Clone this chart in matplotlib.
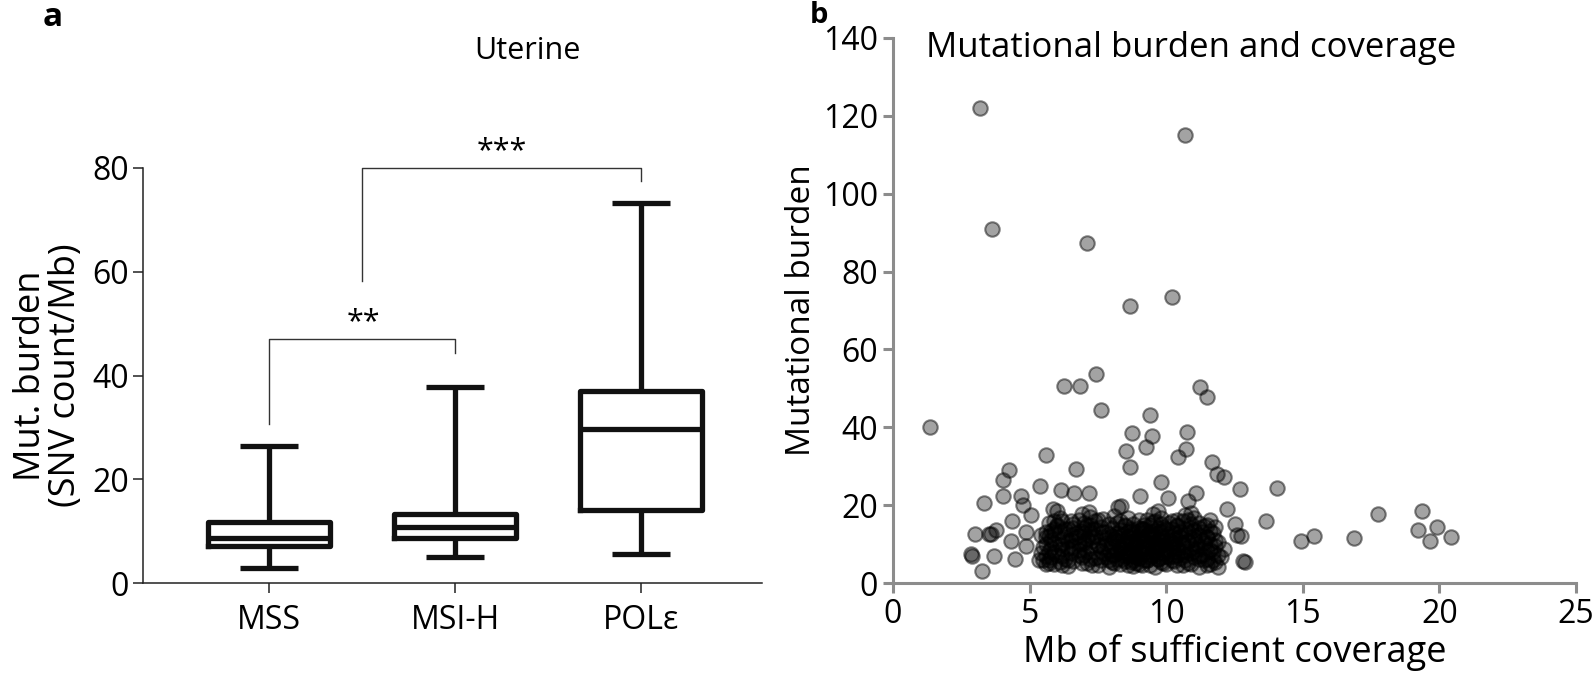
import matplotlib
matplotlib.use("Agg")
import matplotlib.pyplot as plt

plt.rcParams['font.family'] = ['Open Sans', 'DejaVu Sans']

# ---------------- Panel a data ----------------
categories = ["MSS", "MSI-H", "POLε"]
whisker_low = [2.9, 5.0, 5.5]
q1 = [7.2, 8.7, 14.1]
median = [8.7, 10.7, 29.6]
q3 = [11.8, 13.3, 37.0]
whisker_high = [26.4, 37.8, 73.3]
a_yticks = [0, 20, 40, 60, 80]

# ---------------- Panel b data ----------------
outlier_x = [3.2, 10.68, 3.63, 7.1, 10.23, 8.67, 7.44, 6.27, 6.83, 11.25, 11.5, 7.6,
             9.39, 1.36, 8.76, 10.77, 9.47, 8.52, 9.26, 10.71, 5.6, 10.42, 8.67, 6.7,
             4.26, 11.66, 4.04, 11.87, 12.13, 9.82, 5.38, 6.14, 6.64, 7.16, 12.69, 14.04,
             4.04, 4.69, 9.04, 10.08, 11.09, 10.79, 3.33, 4.77, 12.22, 5.06, 17.76, 19.36,
             4.37, 13.67, 12.5, 19.2, 19.9, 15.4, 14.92, 16.89, 19.64, 20.44, 3.0, 3.5,
             3.78, 3.59, 4.32, 2.9, 2.85, 3.7, 4.46, 3.24, 4.86, 4.87, 5.36, 5.71,
             12.74, 12.6, 12.8, 12.9]
outlier_y = [121.9, 115.2, 91.0, 87.3, 73.5, 71.1, 53.7, 50.5, 50.5, 50.3, 47.7, 44.4,
             43.2, 40.2, 38.5, 38.9, 37.7, 34.0, 34.9, 34.5, 33.0, 32.4, 29.8, 29.3,
             29.0, 31.0, 26.4, 27.9, 27.3, 26.0, 24.9, 24.0, 23.1, 23.1, 24.1, 24.4,
             22.3, 22.4, 22.4, 21.9, 23.0, 21.0, 20.5, 20.1, 19.1, 17.4, 17.6, 18.5,
             16.0, 16.0, 15.2, 13.7, 14.3, 12.2, 10.9, 11.5, 10.8, 11.8, 12.7, 12.7,
             13.5, 12.5, 10.8, 7.0, 7.5, 6.9, 6.2, 3.0, 9.4, 13.2, 5.9, 5.1,
             12.0, 12.3, 5.6, 5.5]

cluster_x = [5.9, 6.4, 7.3, 7.9, 8.3, 8.8, 9.1, 9.6, 10.0, 10.6, 11.2, 11.6, 11.9,
             5.5, 6.1, 6.6, 7.1, 7.6, 8.0, 8.5, 8.9, 9.3, 9.8, 10.3, 10.8, 11.4, 11.8,
             5.8, 6.3, 6.9, 7.4, 7.8, 8.2, 8.6, 9.0, 9.4, 9.7, 10.1, 10.5, 11.0, 11.5, 12.0,
             5.4, 6.0, 6.5, 7.0, 7.7, 8.1, 8.4, 8.7, 9.2, 9.5, 9.9, 10.4, 10.9, 11.3, 11.7,
             5.7, 6.2, 6.8, 7.2, 7.9, 8.3, 8.8, 9.1, 9.6, 10.0, 10.7, 11.1, 11.6, 12.1,
             5.5, 6.1, 6.6, 7.5, 8.0, 8.5, 8.9, 9.3, 9.8, 10.2, 10.6, 11.2, 11.8,
             5.9, 6.4, 7.0, 7.3, 7.8, 8.2, 8.7, 9.0, 9.4, 9.9, 10.3, 10.8, 11.4, 11.9,
             5.6, 6.2, 6.7, 7.1, 7.6, 8.1, 8.6, 9.1, 9.5, 10.1, 10.5, 11.0, 11.5,
             5.4, 5.9, 6.5, 7.0, 7.4, 7.9, 8.4, 8.8, 9.3, 9.7, 10.2, 10.7, 11.2, 11.7,
             5.8, 6.3, 6.9, 7.3, 7.8, 8.3, 8.7, 9.2, 9.6, 10.0, 10.5, 11.0, 11.6,
             6.0, 6.6, 7.1, 7.6, 8.5, 9.0, 9.4, 9.9, 10.4, 10.9, 11.4, 11.8,
             5.7, 6.2, 7.0, 7.4, 8.2, 8.8, 9.5, 10.1, 10.6, 11.2,
             6.1, 6.8, 7.2, 7.7, 8.6, 9.3, 9.8, 10.4, 11.0, 11.6,
             6.9, 8.1, 9.5, 10.7,
             5.84, 8.24, 8.35, 9.69, 7.16, 6.0, 10.9,
             8.4, 8.9, 9.2, 9.5, 9.8, 10.0, 8.6, 9.0, 9.4, 8.7, 10.2, 9.7, 8.2, 9.1, 8.9, 10.4]
cluster_y = [4.8, 4.3, 4.6, 4.2, 4.9, 4.4, 4.7, 4.1, 4.8, 4.5, 4.2, 4.9, 4.0,
             5.8, 5.3, 5.6, 5.2, 5.9, 5.4, 5.7, 5.1, 5.8, 5.3, 5.6, 5.2, 5.9, 5.4,
             6.7, 6.2, 6.8, 6.3, 6.6, 6.1, 6.9, 6.4, 6.7, 6.2, 6.8, 6.3, 6.6, 6.1, 6.8,
             7.7, 7.2, 7.8, 7.3, 7.6, 7.1, 7.9, 7.4, 7.7, 7.2, 7.8, 7.3, 7.6, 7.1, 7.9,
             8.3, 8.8, 8.4, 8.9, 8.2, 8.7, 8.3, 8.9, 8.4, 8.6, 8.2, 8.8, 8.4, 8.7,
             9.3, 9.8, 9.4, 9.7, 9.2, 9.9, 9.5, 9.1, 9.7, 9.3, 9.8, 9.4, 9.6,
             10.3, 10.8, 10.4, 10.9, 10.2, 10.7, 10.3, 10.8, 10.4, 10.9, 10.2, 10.7, 10.3, 10.6,
             11.8, 11.3, 11.7, 11.2, 11.9, 11.4, 11.8, 11.3, 11.6, 11.1, 11.8, 11.4, 11.7,
             12.3, 12.8, 12.4, 12.9, 12.2, 12.7, 12.3, 12.8, 12.4, 12.9, 12.2, 12.6, 12.3, 12.8,
             13.3, 13.8, 13.4, 13.9, 13.2, 13.7, 13.3, 13.8, 13.4, 13.9, 13.2, 13.6, 13.3,
             14.7, 14.2, 14.8, 14.3, 14.6, 14.1, 14.8, 14.4, 14.7, 14.2, 14.6, 14.3,
             15.4, 15.8, 15.3, 15.9, 15.5, 15.2, 15.7, 15.3, 15.8, 15.4,
             16.6, 16.2, 16.9, 16.4, 16.7, 16.3, 16.8, 16.2, 16.6, 16.3,
             17.6, 17.3, 17.8, 17.4,
             19.0, 19.5, 19.7, 18.5, 18.2, 18.6, 18.0,
             9.0, 11.0, 6.0, 10.0, 12.0, 7.0, 13.0, 8.0, 12.5, 5.5, 10.5, 9.3, 11.8, 14.0, 6.8, 8.0]

core_x = [5.6, 6.2, 6.9, 7.5, 8.1, 8.6, 9.0, 9.4, 9.9, 10.4, 10.9, 11.5,
          5.7, 6.4, 7.2, 7.9, 8.4, 8.8, 9.3, 9.7, 10.2, 10.7, 11.2, 11.7,
          5.6, 6.2, 6.8, 7.5, 8.0, 8.5, 8.9, 9.4, 9.8, 10.3, 10.7, 11.2, 11.9,
          5.9, 6.5, 7.1, 7.6, 8.2, 8.6, 9.0, 9.5, 10.1, 10.6, 11.0, 11.5,
          5.8, 6.4, 7.0, 7.7, 8.3, 8.7, 9.2, 9.6, 10.0, 10.4, 10.9, 11.4,
          5.6, 6.2, 6.8, 7.5, 8.0, 8.5, 8.9, 9.3, 9.7, 10.2, 10.6, 11.1, 11.6,
          5.8, 6.5, 7.0, 7.8, 8.4, 8.8, 9.2, 9.7, 10.3, 10.8, 11.3, 11.8,
          5.7, 6.3, 6.8, 7.3, 8.0, 8.6, 9.0, 9.5, 10.0, 10.5, 11.0, 11.5,
          5.6, 6.1, 6.7, 7.2, 7.7, 8.2, 8.9, 9.4, 9.8, 10.3, 10.8, 11.3,
          5.9, 6.4, 7.0, 7.4, 8.0, 8.7, 9.1, 9.7, 10.2, 10.7, 11.2,
          6.0, 6.6, 7.2, 7.9, 8.5, 9.2, 9.8, 10.4, 10.9, 11.5,
          5.9, 6.5, 7.5, 8.3, 9.0, 9.6, 10.2, 10.8]
core_y = [5.0, 4.6, 5.1, 4.7, 5.2, 4.5, 5.0, 4.6, 5.1, 4.7, 5.0, 4.6,
          6.0, 5.9, 6.1, 5.8, 6.2, 5.9, 6.0, 6.1, 5.8, 6.0, 6.2, 5.9,
          7.0, 6.9, 7.1, 6.8, 7.2, 6.9, 7.0, 7.1, 6.8, 7.0, 7.2, 6.9, 7.1,
          8.0, 8.1, 7.9, 8.2, 8.0, 7.8, 8.1, 8.0, 8.2, 7.9, 8.0, 8.1,
          9.0, 9.1, 8.9, 9.2, 9.0, 8.8, 9.1, 9.0, 9.2, 8.9, 9.0, 9.1,
          10.0, 9.9, 10.1, 9.8, 10.2, 9.9, 10.0, 10.1, 9.8, 10.0, 10.2, 9.9, 10.1,
          11.0, 11.1, 10.9, 11.2, 11.0, 10.8, 11.1, 11.0, 11.2, 10.9, 11.0, 11.1,
          12.0, 11.9, 12.1, 11.8, 12.2, 11.9, 12.0, 12.1, 11.8, 12.0, 12.2, 11.9,
          13.0, 13.1, 12.9, 13.2, 13.0, 12.8, 13.1, 13.0, 13.2, 12.9, 13.0, 13.1,
          14.0, 13.9, 14.1, 13.8, 14.2, 13.9, 14.0, 14.1, 13.8, 14.0, 14.2,
          15.0, 15.1, 14.9, 15.2, 15.0, 14.8, 15.1, 15.0, 15.2, 14.9,
          16.0, 15.9, 16.1, 15.8, 16.2, 15.9, 16.0, 16.1]

coverage_mb = outlier_x + cluster_x + core_x
mut_burden = outlier_y + cluster_y + core_y
b_xticks = [0, 5, 10, 15, 20, 25]
b_yticks = [0, 20, 40, 60, 80, 100, 120, 140]

W, H = 1592, 682
fig = plt.figure(figsize=(W / 100, H / 100), dpi=100)

LABEL_FS = 26
TICK_FS = 23

# ---------------- Panel a ----------------
axa = fig.add_axes([143 / W, 1 - 583 / H, (762 - 143) / W, (583 - 168) / H])
positions = [1, 2, 3]
stats = [dict(label=c, whislo=lo, q1=a, med=m, q3=b, whishi=hi)
         for c, lo, a, m, b, hi in zip(categories, whisker_low, q1, median, q3, whisker_high)]
lw_box = 3.8
dark = '#111111'
axa.bxp(stats, positions=positions, widths=0.66, capwidths=0.31, showfliers=False,
        boxprops=dict(lw=lw_box, color=dark),
        whiskerprops=dict(lw=lw_box, color=dark, solid_capstyle='butt'),
        capprops=dict(lw=lw_box, color=dark, solid_capstyle='butt'),
        medianprops=dict(lw=lw_box, color=dark, solid_capstyle='butt'))
axa.set_xlim(0.323, 3.65)
axa.set_ylim(0, 80)
axa.set_yticks(a_yticks)
axa.set_xticks(positions)
axa.set_xticklabels(categories)
for s in ['top', 'right']:
    axa.spines[s].set_visible(False)
for s in ['left', 'bottom']:
    axa.spines[s].set_color('#222222')
    axa.spines[s].set_linewidth(1.1)
axa.tick_params(axis='both', direction='out', length=7, width=1.1, color='#222222',
                labelsize=TICK_FS, pad=3)
axa.tick_params(axis='x', pad=8)
axa.set_ylabel("Mut. burden\n(SNV count/Mb)", fontsize=LABEL_FS, linespacing=0.95, labelpad=6)

# significance brackets
br_lw = 1.0
br_col = '#333333'
axa.plot([1, 1, 2, 2], [30.7, 47.1, 47.1, 44.3], color=br_col, lw=br_lw, clip_on=False)
axa.text(1.51, 47.4, "**", ha='center', va='bottom', fontsize=22)
axa.plot([1.5, 1.5, 3, 3], [58.2, 80.0, 80.0, 77.5], color=br_col, lw=br_lw, clip_on=False)
axa.text(2.25, 80.3, "***", ha='center', va='bottom', fontsize=22)

fig.text(527 / W, 1 - 51 / H, "Uterine", ha='center', va='center', fontsize=22)
fig.text(53 / W, 1 - 17 / H, "a", ha='center', va='center', fontsize=24, fontweight='bold')
fig.text(819 / W, 1 - 1 / H, "b", ha='center', va='top', fontsize=21, fontweight='bold')

# ---------------- Panel b ----------------
axb = fig.add_axes([893 / W, 1 - 583 / H, (1576 - 893) / W, (583 - 38) / H])
axb.scatter(coverage_mb, mut_burden, s=108, facecolors=(0, 0, 0, 0.36),
            edgecolors=(0, 0, 0, 0.48), linewidths=1.5, clip_on=False, zorder=3)
axb.set_xlim(0, 25)
axb.set_ylim(0, 140)
axb.set_xticks(b_xticks)
axb.set_yticks(b_yticks)
for s in ['top', 'right']:
    axb.spines[s].set_visible(False)
for s in ['left', 'bottom']:
    axb.spines[s].set_color('#8c8c8c')
    axb.spines[s].set_linewidth(2.2)
axb.tick_params(axis='both', direction='out', length=7, width=2.2, color='#8c8c8c',
                labelsize=TICK_FS, pad=4)
axb.set_xlabel("Mb of sufficient coverage", fontsize=LABEL_FS, labelpad=2)
axb.set_ylabel("Mutational burden", fontsize=24, labelpad=3)
axb.text(926 / W, 1 - 48 / H, "Mutational burden and coverage", transform=fig.transFigure,
         ha='left', va='center', fontsize=25)

fig.savefig("out.png", dpi=100)
